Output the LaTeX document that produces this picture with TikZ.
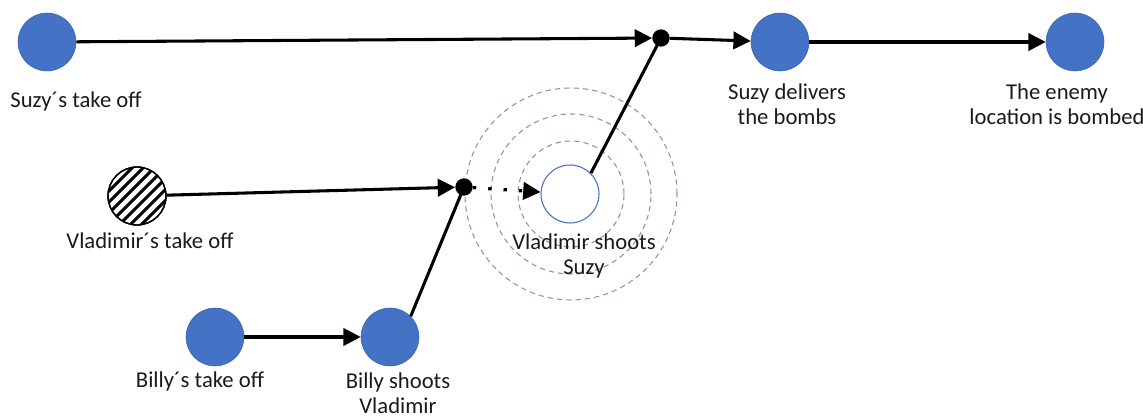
\documentclass[tikz,border=0pt]{standalone}
\usepackage{fontspec}
\setmainfont{Carlito}
\usetikzlibrary{arrows.meta,calc}
\definecolor{nodeblue}{HTML}{4472C4}
\definecolor{ringgray}{HTML}{8497B0}
\definecolor{txt}{HTML}{1A1A1A}
\begin{document}
\begin{tikzpicture}[x=0.75pt,y=-0.75pt,
  ev/.style={circle,minimum size=43.5pt,inner sep=0pt,fill=nodeblue,draw=nodeblue!85!black,line width=0.4pt},
  hollow/.style={circle,minimum size=43.5pt,inner sep=0pt,fill=white,draw=nodeblue,line width=0.8pt},
  hatch/.style={circle,minimum size=43.5pt,inner sep=0pt,draw=black,line width=1pt},
  junc/.style={circle,minimum size=13pt,inner sep=0pt,fill=black},
  lbl/.style={font=\fontsize{17}{19}\selectfont,align=center,text=txt,inner sep=0pt},
  arr/.style={line width=2.3pt,-{Triangle[length=13pt,width=13pt]}},
  plain/.style={line width=2.3pt},
  dotarr/.style={line width=2.5pt,dash pattern=on 2.5pt off 9pt,-{Triangle[length=13pt,width=13pt]}},
  ring/.style={draw=ringgray,line width=0.8pt,dash pattern=on 4pt off 3pt}
]
\useasboundingbox (0,0) rectangle (1143,416);

% rings around Vladimir shoots Suzy
\coordinate (rc) at (571,194);
\draw[ring] (rc) circle[radius=39.75pt];
\draw[ring] (rc) circle[radius=60pt];
\draw[ring] (rc) circle[radius=79.5pt];

% events
\node[ev] (st) at (47,42) {};
\node[ev] (sd) at (780,42) {};
\node[ev] (eb) at (1075,42) {};
\node[hatch] (vto) at (137,196) {};
\node[hollow] (vs) at (570,194) {};
\node[ev] (bt) at (215,337) {};
\node[ev] (bs) at (390,337) {};

% hatching of Vladimir's take off
\begin{scope}
  \clip (vto.center) circle[radius=21.75pt];
  \foreach \k in {-66,-55,...,66}
    \draw[line width=2.2pt] ($(vto.center)+(\k-40,40)$) -- ($(vto.center)+(\k+40,-40)$);
\end{scope}
\draw[line width=1pt] (vto.center) circle[radius=21.75pt];

% junctions
\node[junc] (j1) at (661,38) {};
\node[junc] (j2) at (464,187) {};

% labels
\node[lbl] (lst) at (76,101) {Suzy´s take off};
\node[lbl] (lsd) at (787,104) {Suzy delivers\\the bombs};
\node[lbl] (leb) at (1057,104) {The enemy\\location is bombed};
\node[lbl] (lvto) at (150,241) {Vladimir´s take off};
\node[lbl] (lvs) at (584,256) {Vladimir shoots\\Suzy};
\node[lbl] (lbt) at (200,381) {Billy´s take off};
\node[lbl] (lbs) at (398,393) {Billy shoots\\Vladimir};

% connectors
\draw[arr] (st) -- (j1);
\draw[arr] (j1) -- (sd);
\draw[arr] (sd) -- (eb);
\draw[arr] (vto) -- (j2);
\draw[dotarr] (j2) -- (vs);
\draw[plain] (vs.45) -- (j1.center);
\draw[arr] (bt) -- (bs);
\draw[plain] (bs.45) -- (j2.center);
\end{tikzpicture}
\end{document}
